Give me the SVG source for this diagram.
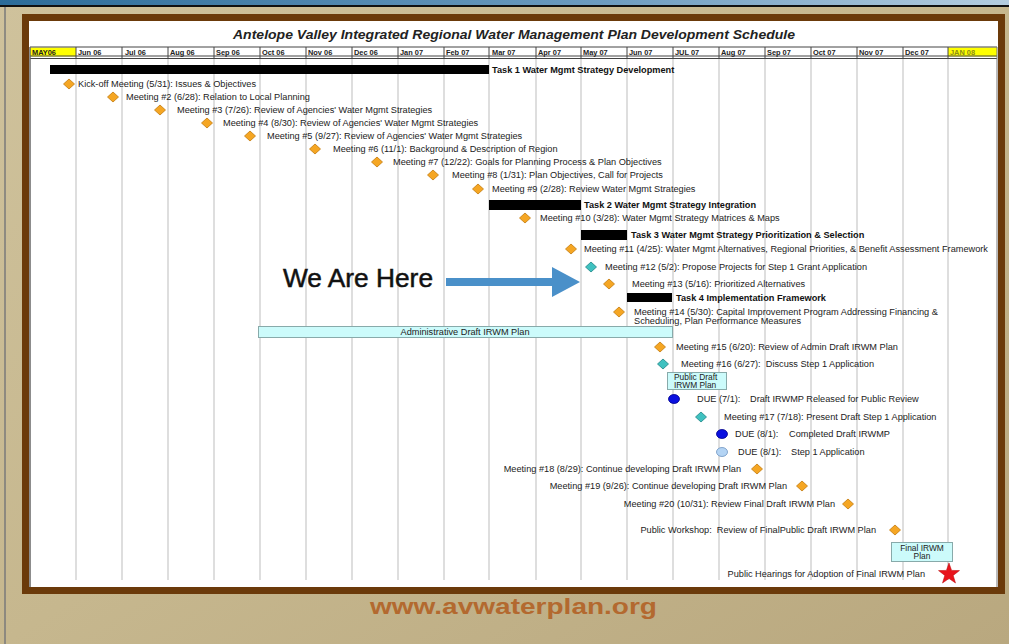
<svg xmlns="http://www.w3.org/2000/svg" xmlns:xlink="http://www.w3.org/1999/xlink" width="1009" height="644" viewBox="0 0 1009 644">
<defs>
<linearGradient id="bg" x1="0" y1="0" x2="1" y2="1">
<stop offset="0" stop-color="#cfc29c"/>
<stop offset="0.5" stop-color="#c6b78e"/>
<stop offset="1" stop-color="#b9a87f"/>
</linearGradient>
<linearGradient id="topbar" x1="0" y1="0" x2="1" y2="0">
<stop offset="0" stop-color="#2c6c99"/>
<stop offset="0.6" stop-color="#6d9cc0"/>
<stop offset="1" stop-color="#b4cde0"/>
</linearGradient>
<path id="dia" d="M0,-5 L5.5,0 L0,5 L-5.5,0 Z"/>
<style>
.lbl{font-family:"Liberation Sans",Arial,sans-serif;font-size:9.2px;fill:#222}
.bx{font-family:"Liberation Sans",Arial,sans-serif;font-size:8.4px;fill:#222}
.task{font-family:"Liberation Sans",Arial,sans-serif;font-size:9.2px;font-weight:bold;fill:#111}
.mon{font-family:"Liberation Sans",Arial,sans-serif;font-size:7.4px;font-weight:bold;fill:#222}
.org{fill:#f5a623;stroke:#c37a0c;stroke-width:0.8}
.teal{fill:#3fc1c0;stroke:#1d8585;stroke-width:0.8}
.bar{fill:#000}
.box{fill:#ccfbfb;stroke:#8aa;stroke-width:1}
.grid{stroke:#bdbdbd;stroke-width:1}
.hsep{stroke:#444;stroke-width:1}
</style>
</defs>
<rect x="0" y="0" width="1009" height="644" fill="url(#bg)"/>
<rect x="0" y="0" width="1009" height="5" fill="url(#topbar)"/>
<rect x="0" y="5" width="1009" height="2" fill="#111"/>
<line x1="5" y1="7" x2="5" y2="644" stroke="#7a7a7a" stroke-width="1.5"/>
<rect x="25.5" y="17.5" width="976" height="573" fill="#fff" stroke="#6b3a0a" stroke-width="7"/>

<g id="title">
<text x="514" y="39" text-anchor="middle" font-family="Liberation Sans,Arial,sans-serif" font-size="12" font-weight="bold" font-style="italic" fill="#222" textLength="562" lengthAdjust="spacingAndGlyphs">Antelope Valley Integrated Regional Water Management Plan Development Schedule</text>
</g>

<g id="timeline-header">
<rect x="30" y="47.5" width="46" height="9" fill="#ffff00"/>
<rect x="948" y="47.5" width="49" height="9" fill="#ffff00"/>
<line x1="30" y1="47" x2="997" y2="47" stroke="#444" stroke-width="1"/>
<line x1="30" y1="56" x2="997" y2="56" stroke="#444" stroke-width="1"/>
<line x1="30" y1="58.5" x2="997" y2="58.5" stroke="#444" stroke-width="1"/>
<g class="hsep">
<line x1="76" y1="47" x2="76" y2="58"/><line x1="122" y1="47" x2="122" y2="58"/><line x1="168" y1="47" x2="168" y2="58"/><line x1="214" y1="47" x2="214" y2="58"/><line x1="260" y1="47" x2="260" y2="58"/><line x1="306" y1="47" x2="306" y2="58"/><line x1="352" y1="47" x2="352" y2="58"/><line x1="398" y1="47" x2="398" y2="58"/><line x1="444" y1="47" x2="444" y2="58"/><line x1="489" y1="47" x2="489" y2="58"/><line x1="536" y1="47" x2="536" y2="58"/><line x1="581" y1="47" x2="581" y2="58"/><line x1="627" y1="47" x2="627" y2="58"/><line x1="673" y1="47" x2="673" y2="58"/><line x1="719" y1="47" x2="719" y2="58"/><line x1="765" y1="47" x2="765" y2="58"/><line x1="811" y1="47" x2="811" y2="58"/><line x1="857" y1="47" x2="857" y2="58"/><line x1="903" y1="47" x2="903" y2="58"/><line x1="948" y1="47" x2="948" y2="58"/>
</g>
<text class="mon" x="32" y="54.5">MAY06</text>
<text class="mon" x="78" y="54.5">Jun 06</text>
<text class="mon" x="125" y="54.5">Jul 06</text>
<text class="mon" x="170" y="54.5">Aug 06</text>
<text class="mon" x="216" y="54.5">Sep 06</text>
<text class="mon" x="262" y="54.5">Oct 06</text>
<text class="mon" x="308" y="54.5">Nov 06</text>
<text class="mon" x="354" y="54.5">Dec 06</text>
<text class="mon" x="400" y="54.5">Jan 07</text>
<text class="mon" x="446" y="54.5">Feb 07</text>
<text class="mon" x="492" y="54.5">Mar 07</text>
<text class="mon" x="538" y="54.5">Apr 07</text>
<text class="mon" x="583" y="54.5">May 07</text>
<text class="mon" x="629" y="54.5">Jun 07</text>
<text class="mon" x="675" y="54.5">JUL 07</text>
<text class="mon" x="721" y="54.5">Aug 07</text>
<text class="mon" x="767" y="54.5">Sep 07</text>
<text class="mon" x="813" y="54.5">Oct 07</text>
<text class="mon" x="859" y="54.5">Nov 07</text>
<text class="mon" x="905" y="54.5">Dec 07</text>
<text class="mon" x="950" y="54.5" style="fill:#8c8c1a">JAN 08</text>
</g>

<g id="grid" class="grid">
<line x1="76" y1="59" x2="76" y2="580"/><line x1="122" y1="59" x2="122" y2="580"/><line x1="168" y1="59" x2="168" y2="580"/><line x1="214" y1="59" x2="214" y2="580"/><line x1="260" y1="59" x2="260" y2="580"/><line x1="306" y1="59" x2="306" y2="580"/><line x1="352" y1="59" x2="352" y2="580"/><line x1="398" y1="59" x2="398" y2="580"/><line x1="444" y1="59" x2="444" y2="580"/><line x1="489" y1="59" x2="489" y2="580"/><line x1="536" y1="59" x2="536" y2="580"/><line x1="581" y1="59" x2="581" y2="580"/><line x1="627" y1="59" x2="627" y2="580"/><line x1="673" y1="59" x2="673" y2="580"/><line x1="719" y1="59" x2="719" y2="580"/><line x1="765" y1="59" x2="765" y2="580"/><line x1="811" y1="59" x2="811" y2="580"/><line x1="857" y1="59" x2="857" y2="580"/><line x1="903" y1="59" x2="903" y2="580"/><line x1="948" y1="59" x2="948" y2="580"/>
<line x1="30" y1="47" x2="30" y2="587" stroke="#666" stroke-width="1.5"/>
<line x1="997" y1="47" x2="997" y2="587" stroke="#777"/>
</g>

<g id="task1"><rect class="bar" x="50" y="65" width="439" height="9"/><text class="task" x="492" y="73">Task 1 Water Mgmt Strategy Development</text></g>
<g id="m1"><use xlink:href="#dia" class="org" x="69" y="84"/><text class="lbl" x="78" y="87">Kick-off Meeting (5/31): Issues &amp; Objectives</text></g>
<g id="m2"><use xlink:href="#dia" class="org" x="113" y="97"/><text class="lbl" x="126" y="100">Meeting #2 (6/28): Relation to Local Planning</text></g>
<g id="m3"><use xlink:href="#dia" class="org" x="160" y="110"/><text class="lbl" x="177" y="113">Meeting #3 (7/26): Review of Agencies' Water Mgmt Strategies</text></g>
<g id="m4"><use xlink:href="#dia" class="org" x="207" y="123"/><text class="lbl" x="223" y="126">Meeting #4 (8/30): Review of Agencies' Water Mgmt Strategies</text></g>
<g id="m5"><use xlink:href="#dia" class="org" x="250" y="136"/><text class="lbl" x="267" y="139">Meeting #5 (9/27): Review of Agencies' Water Mgmt Strategies</text></g>
<g id="m6"><use xlink:href="#dia" class="org" x="315" y="149"/><text class="lbl" x="333" y="152">Meeting #6 (11/1): Background &amp; Description of Region</text></g>
<g id="m7"><use xlink:href="#dia" class="org" x="377" y="162"/><text class="lbl" x="393" y="165">Meeting #7 (12/22): Goals for Planning Process &amp; Plan Objectives</text></g>
<g id="m8"><use xlink:href="#dia" class="org" x="433" y="175"/><text class="lbl" x="452" y="178">Meeting #8 (1/31): Plan Objectives, Call for Projects</text></g>
<g id="m9"><use xlink:href="#dia" class="org" x="478" y="189"/><text class="lbl" x="492" y="192">Meeting #9 (2/28): Review Water Mgmt Strategies</text></g>
<g id="task2"><rect class="bar" x="489" y="200" width="92" height="10"/><text class="task" x="584" y="208">Task 2 Water Mgmt Strategy Integration</text></g>
<g id="m10"><use xlink:href="#dia" class="org" x="525" y="218"/><text class="lbl" x="540" y="221">Meeting #10 (3/28): Water Mgmt Strategy Matrices &amp; Maps</text></g>
<g id="task3"><rect class="bar" x="581" y="230" width="46" height="10"/><text class="task" x="631" y="238">Task 3 Water Mgmt Strategy Prioritization &amp; Selection</text></g>
<g id="m11"><use xlink:href="#dia" class="org" x="571" y="249"/><text class="lbl" x="584" y="252">Meeting #11 (4/25): Water Mgmt Alternatives, Regional Priorities, &amp; Benefit Assessment Framework</text></g>
<g id="m12"><use xlink:href="#dia" class="teal" x="591" y="267"/><text class="lbl" x="605" y="270">Meeting #12 (5/2): Propose Projects for Step 1 Grant Application</text></g>
<g id="m13"><use xlink:href="#dia" class="org" x="609" y="284"/><text class="lbl" x="632" y="287">Meeting #13 (5/16): Prioritized Alternatives</text></g>
<g id="task4"><rect class="bar" x="627" y="293" width="45" height="9"/><text class="task" x="676" y="301">Task 4 Implementation Framework</text></g>
<g id="m14"><use xlink:href="#dia" class="org" x="619" y="312"/><text class="lbl" x="634" y="314.5">Meeting #14 (5/30): Capital Improvement Program Addressing Financing &amp;</text><text class="lbl" x="634" y="323.5">Scheduling, Plan Performance Measures</text></g>
<g id="admin-draft"><rect class="box" x="258.5" y="326.5" width="414" height="11"/><text class="lbl" x="465" y="335" text-anchor="middle">Administrative Draft IRWM Plan</text></g>
<g id="m15"><use xlink:href="#dia" class="org" x="660" y="347"/><text class="lbl" x="676" y="350">Meeting #15 (6/20): Review of Admin Draft IRWM Plan</text></g>
<g id="m16"><use xlink:href="#dia" class="teal" x="663" y="364"/><text class="lbl" x="681" y="367" xml:space="preserve">Meeting #16 (6/27):  Discuss Step 1 Application</text></g>
<g id="public-draft"><rect class="box" x="667.5" y="372.5" width="59" height="17"/><text class="bx" x="674" y="380">Public Draft</text><text class="bx" x="674" y="388">IRWM Plan</text></g>
<g id="due1"><ellipse cx="674" cy="399" rx="5.5" ry="4.5" fill="#0a10e0" stroke="#00008a" stroke-width="0.8"/><text class="lbl" x="697" y="402">DUE (7/1):</text><text class="lbl" x="750" y="402">Draft IRWMP Released for Public Review</text></g>
<g id="m17"><use xlink:href="#dia" class="teal" x="701" y="417"/><text class="lbl" x="724" y="420">Meeting #17 (7/18): Present Draft Step 1 Application</text></g>
<g id="due2"><ellipse cx="722" cy="434" rx="5.5" ry="4.5" fill="#0a10e0" stroke="#00008a" stroke-width="0.8"/><text class="lbl" x="735" y="437">DUE (8/1):</text><text class="lbl" x="789" y="437">Completed Draft IRWMP</text></g>
<g id="due3"><ellipse cx="722" cy="452" rx="5.5" ry="4.5" fill="#b4d4f4" stroke="#6f94c0" stroke-width="0.8"/><text class="lbl" x="738" y="455">DUE (8/1):</text><text class="lbl" x="791" y="455">Step 1 Application</text></g>
<g id="m18"><use xlink:href="#dia" class="org" x="757" y="469"/><text class="lbl" x="741" y="472" text-anchor="end">Meeting #18 (8/29): Continue developing Draft IRWM Plan</text></g>
<g id="m19"><use xlink:href="#dia" class="org" x="802" y="486"/><text class="lbl" x="787" y="489" text-anchor="end">Meeting #19 (9/26): Continue developing Draft IRWM Plan</text></g>
<g id="m20"><use xlink:href="#dia" class="org" x="848" y="504"/><text class="lbl" x="835" y="507" text-anchor="end">Meeting #20 (10/31): Review Final Draft IRWM Plan</text></g>
<g id="workshop"><use xlink:href="#dia" class="org" x="895" y="530"/><text class="lbl" x="876" y="533" text-anchor="end" xml:space="preserve">Public Workshop:  Review of FinalPublic Draft IRWM Plan</text></g>
<g id="final-plan"><rect class="box" x="891.5" y="542.5" width="61" height="19"/><text class="bx" x="922" y="550.5" text-anchor="middle">Final IRWM</text><text class="bx" x="922" y="559" text-anchor="middle">Plan</text></g>
<g id="hearings"><polygon points="949,563 951.6,570.4 959.5,570.6 953.2,575.4 955.5,583 949,578.5 942.5,583 944.8,575.4 938.5,570.6 946.4,570.4" fill="#e8141c" stroke="#b00" stroke-width="0.5"/><text class="lbl" x="925" y="577" text-anchor="end">Public Hearings for Adoption of Final IRWM Plan</text></g>

<g id="we-are-here"><text x="283" y="287" font-family="Liberation Sans,Arial,sans-serif" font-size="26" fill="#111" stroke="#111" stroke-width="0.5" textLength="150" lengthAdjust="spacingAndGlyphs">We Are Here</text></g>
<g id="connectors">
<path d="M446,278 L552,278 L552,267 L580,282 L552,297 L552,286 L446,286 Z" fill="#4a90c9"/>
</g>

<g id="footer"><text x="370" y="614" font-family="Liberation Sans,Arial,sans-serif" font-size="22" font-weight="bold" fill="#b3692f" textLength="287" lengthAdjust="spacingAndGlyphs">www.avwaterplan.org</text></g>
</svg>
